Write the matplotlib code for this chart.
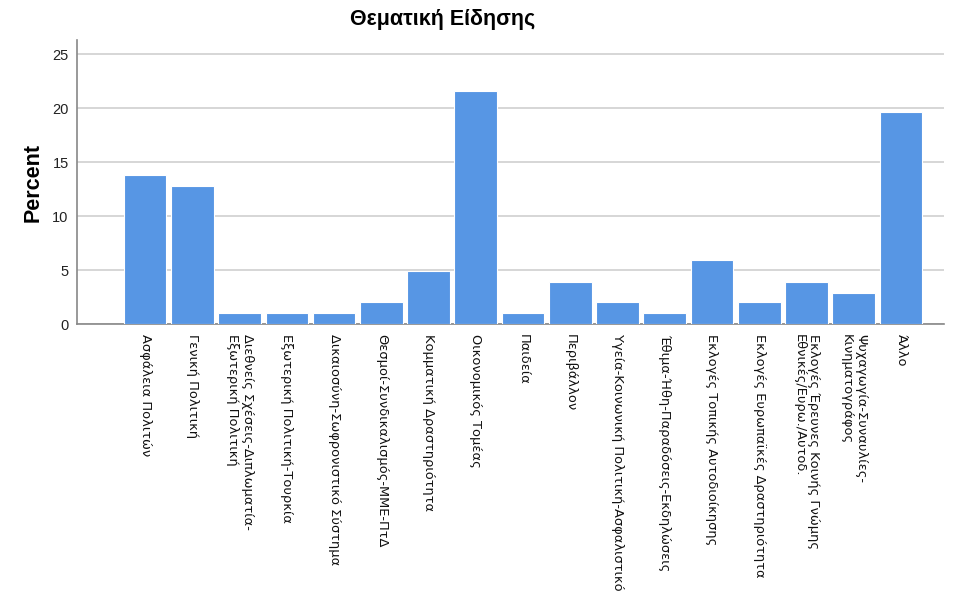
import matplotlib
matplotlib.use("Agg")
import matplotlib.pyplot as plt

categories = [
    "Ασφάλεια Πολιτών",
    "Γενική Πολιτική",
    "Διεθνείς Σχέσεις-Διπλωματία-\nΕξωτερική Πολιτική",
    "Εξωτερική Πολιτική-Τουρκία",
    "Δικαιοσύνη-Σωφρονιστικό Σύστημα",
    "Θεσμοί-Συνδικαλισμός-ΜΜΕ-ΠτΔ",
    "Κομματική Δραστηριότητα",
    "Οικονομικός Τομέας",
    "Παιδεία",
    "Περιβάλλον",
    "Υγεία-Κοινωνική Πολιτική-Ασφαλιστικό",
    "Έθιμα-Ήθη-Παραδόσεις-Εκδηλώσεις",
    "Εκλογές Τοπικής Αυτοδιοίκησης",
    "Εκλογές Ευρωπαϊκές Δραστηριότητα",
    "Εκλογές Έρευνες Κοινής Γνώμης\nΕθνικές/Ευρω./Αυτοδ.",
    "Ψυχαγωγία-Συναυλίες-\nΚινηματογράφος",
    "Άλλο",
]
percent = [13.8, 12.8, 1.0, 1.0, 1.0, 2.0, 4.9, 21.6, 1.0, 3.9, 2.0, 1.0, 5.9, 2.0, 3.9, 2.9, 19.6]
yticks = [0, 5, 10, 15, 20, 25]

plt.rcParams['font.family'] = ['Liberation Sans', 'DejaVu Sans']

fig = plt.figure(figsize=(9.54, 5.99), dpi=100)
ax = fig.add_axes([0.0807, 0.459, 0.9088, 0.474])

x = list(range(len(categories)))
ax.bar(x, percent, width=0.9, color="#5796e4", edgecolor="white", linewidth=0.8, zorder=3)

ax.set_xlim(-1.44, 16.91)
ax.set_ylim(0, 26.3)
ax.set_yticks(yticks)
ax.set_yticklabels([str(t) for t in yticks], fontsize=10.5, color="#222222")
ax.yaxis.grid(True, color="#d0d0d0", linewidth=1.2, zorder=0)
ax.tick_params(axis="y", length=0, pad=6)
ax.tick_params(axis="x", length=0, pad=7)

ax.set_xticks(x)
ax.set_xticklabels(categories, rotation=-90, fontsize=9.4, ha="center", va="top",
                   multialignment="left", family=["DejaVu Sans"], color="#111111")

for s in ["top", "right"]:
    ax.spines[s].set_visible(False)
ax.spines["left"].set_color("#888888")
ax.spines["bottom"].set_color("#888888")
ax.spines["left"].set_linewidth(1.2)
ax.spines["bottom"].set_linewidth(1.2)

ax.set_ylabel("Percent", fontsize=15.5, fontweight="bold", labelpad=6)
fig.text(443 / 954, 1 - 19 / 599, "Θεματική Είδησης", fontsize=15.5, fontweight="bold",
         ha="center", va="center")

fig.savefig("out.png", dpi=100)
